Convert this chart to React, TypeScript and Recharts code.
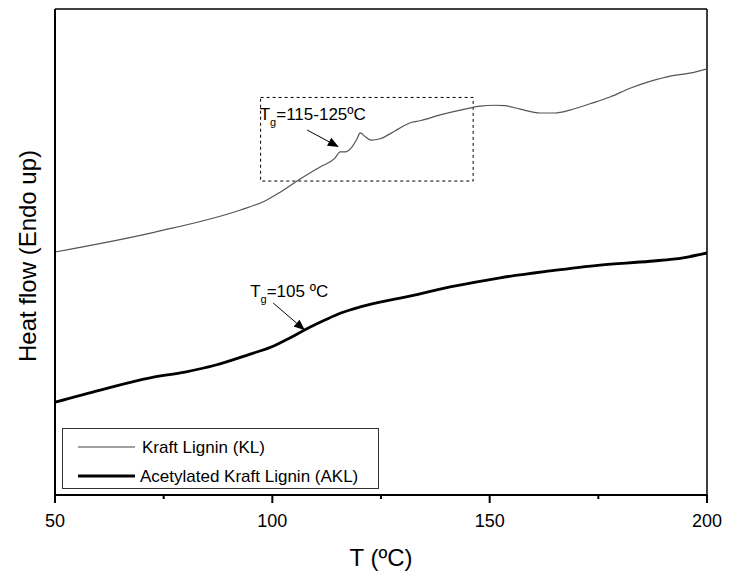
import React from 'react';
import {
  LineChart,
  Line,
  XAxis,
  YAxis,
  ReferenceLine,
  ReferenceArea,
  ReferenceDot,
  Legend,
  Label
} from 'recharts';

// Kraft Lignin (KL): temperature (ºC) and heat flow (arbitrary units)
const klTemp = [50, 73, 92.5, 98.3, 101.8, 106.4, 111, 114.4, 115.6, 116.7, 118.3, 119.5, 120.2, 121.4, 122.7, 124.8, 128.2, 132.1, 134, 138.6, 144.3, 147.8, 151.2, 153.5, 157, 161.6, 165, 168.5, 173.1, 177.7, 182.3, 186.9, 191.5, 196, 200];
const klHeat = [50.0, 54.1, 58.6, 60.5, 62.3, 65.0, 67.5, 69.3, 70.6, 70.6, 71.6, 73.3, 74.5, 73.7, 73.0, 73.3, 74.9, 76.7, 77.0, 78.2, 79.4, 80.0, 80.2, 80.1, 79.4, 78.6, 78.6, 79.2, 80.5, 81.9, 83.7, 85.1, 86.2, 86.8, 87.7];

// Acetylated Kraft Lignin (AKL)
const aklTemp = [50, 60.4, 71.9, 79.9, 86.8, 94.9, 99.9, 104, 107.5, 112.1, 115.6, 120.2, 125.9, 129.4, 140.9, 152.4, 163.9, 175.4, 186.9, 194.5, 200];
const aklHeat = [19.1, 21.6, 24.1, 25.3, 26.7, 29.0, 30.5, 32.3, 34.0, 36.0, 37.4, 38.7, 39.9, 40.5, 42.8, 44.7, 46.1, 47.3, 48.1, 48.8, 49.8];

const xTicks = [50, 75, 100, 125, 150, 175, 200];
const xMajor = [50, 100, 150, 200];

const klData = klTemp.map((t, i) => ({ t, v: klHeat[i] }));
const aklData = aklTemp.map((t, i) => ({ t, v: aklHeat[i] }));

const FONT = '"Liberation Sans", Arial, sans-serif';

const XTick = (props: any) => {
  const { x, y, payload } = props;
  const major = xMajor.includes(payload.value);
  return (
    <g>
      <line x1={x} x2={x} y1={y} y2={y + (major ? 8 : 4)} stroke="#000" strokeWidth={2} />
      {major && (
        <text x={x} y={y + 32} textAnchor="middle" fontSize={18} fontFamily={FONT} fill="#000">
          {payload.value}
        </text>
      )}
    </g>
  );
};

const Arrow = (props: any) => {
  const { x1, y1, x2, y2 } = props;
  const a = Math.atan2(y2 - y1, x2 - x1);
  const len = 11;
  const w = 4.5;
  const bx = x2 - len * Math.cos(a);
  const by = y2 - len * Math.sin(a);
  const pts = `${x2},${y2} ${bx - w * Math.sin(a)},${by + w * Math.cos(a)} ${bx + w * Math.sin(a)},${by - w * Math.cos(a)}`;
  return (
    <g>
      <line x1={x1} y1={y1} x2={bx} y2={by} stroke="#000" strokeWidth={1} />
      <polygon points={pts} fill="#000" />
    </g>
  );
};

// plain line for the frame edges
const Edge = (props: any) => {
  const { x1, y1, x2, y2, strokeWidth } = props;
  return <line x1={x1} y1={y1} x2={x2} y2={y2} stroke="#000" strokeWidth={strokeWidth} />;
};

const tgLabel = (rest: string) => (props: any) => {
  const { cx, cy } = props;
  return (
    <text x={cx} y={cy} fontSize={17} fontFamily={FONT} fill="#000">
      T
      <tspan fontSize={11} dy={6}>g</tspan>
      <tspan dy={-6}>{rest}</tspan>
    </text>
  );
};

const LegendBox = () => (
  <div
    style={{
      width: 317,
      height: 61,
      boxSizing: 'border-box',
      border: '1px solid #333',
      background: '#fff',
      position: 'relative'
    }}
  >
    <svg width={317} height={61} style={{ position: 'absolute', left: -1, top: -1 }}>
      <line x1={16} x2={73} y1={19} y2={19} stroke="#444" strokeWidth={1} />
      <text x={80} y={25} fontSize={17} fontFamily={FONT}>Kraft Lignin (KL)</text>
      <line x1={16} x2={73} y1={48} y2={48} stroke="#000" strokeWidth={3} />
      <text x={78} y={54} fontSize={17} fontFamily={FONT}>Acetylated Kraft Lignin (AKL)</text>
    </svg>
  </div>
);

export default function App() {
  return (
    <div style={{ position: 'absolute', left: 0, top: 0, background: '#fff' }}>
      <LineChart width={729} height={581} margin={{ top: 9, right: 22, bottom: 26, left: 54 }}>
        <XAxis
          dataKey="t"
          type="number"
          domain={[50, 200]}
          ticks={xTicks}
          allowDataOverflow
          height={60}
          tickSize={0}
          tickMargin={0}
          tickLine={false}
          tick={<XTick />}
          axisLine={{ stroke: '#000', strokeWidth: 2 }}
          label={
            <Label
              content={(p: any) => {
                const vb = p.viewBox;
                return (
                  <text x={vb.x + vb.width / 2} y={vb.y + 71} textAnchor="middle" fontSize={24} fontFamily={FONT} fill="#000">
                    T (ºC)
                  </text>
                );
              }}
            />
          }
        />
        <YAxis
          type="number"
          domain={[0, 100]}
          width={1}
          tick={false}
          tickLine={false}
          allowDataOverflow
          axisLine={{ stroke: '#000', strokeWidth: 2 }}
          label={
            <Label
              content={(p: any) => {
                const vb = p.viewBox;
                const x = vb.x + vb.width - 19;
                const y = vb.y + vb.height / 2 + 4;
                return (
                  <text x={x} y={y} textAnchor="middle" fontSize={24} fontFamily={FONT} fill="#000" transform={`rotate(-90, ${x}, ${y})`}>
                    Heat flow (Endo up)
                  </text>
                );
              }}
            />
          }
        />
        <ReferenceLine y={100} stroke="#000" strokeWidth={1.5} />
        <ReferenceLine x={200} stroke="#000" strokeWidth={1.5} />
        <ReferenceLine segment={[{ x: 50, y: 0 }, { x: 50, y: 100 }]} strokeWidth={2} shape={<Edge />} />
        <ReferenceArea x1={97.3} x2={146.2} y1={64.6} y2={81.8} fill="none" stroke="#000" strokeWidth={1} strokeDasharray="3 3" />
        <Line
          data={klData}
          dataKey="v"
          name="Kraft Lignin (KL)"
          type="monotone"
          stroke="#555"
          strokeWidth={1.2}
          dot={false}
          isAnimationActive={false}
        />
        <Line
          data={aklData}
          dataKey="v"
          name="Acetylated Kraft Lignin (AKL)"
          type="monotone"
          stroke="#000"
          strokeWidth={2.8}
          dot={false}
          isAnimationActive={false}
        />
        <ReferenceLine segment={[{ x: 108.0, y: 75.1 }, { x: 115.3, y: 71.6 }]} shape={<Arrow />} />
        <ReferenceLine segment={[{ x: 100.2, y: 39.5 }, { x: 107.5, y: 33.9 }]} shape={<Arrow />} />
        <ReferenceDot x={97.1} y={77.2} r={1} shape={tgLabel('=115-125ºC')} />
        <ReferenceDot x={94.9} y={40.7} r={1} shape={tgLabel('=105 ºC')} />
        <Legend
          layout="horizontal"
          verticalAlign="middle"
          align="center"
          content={() => <LegendBox />}
          wrapperStyle={{ left: 62, top: 428, width: 317, height: 61 }}
        />
      </LineChart>
    </div>
  );
}
